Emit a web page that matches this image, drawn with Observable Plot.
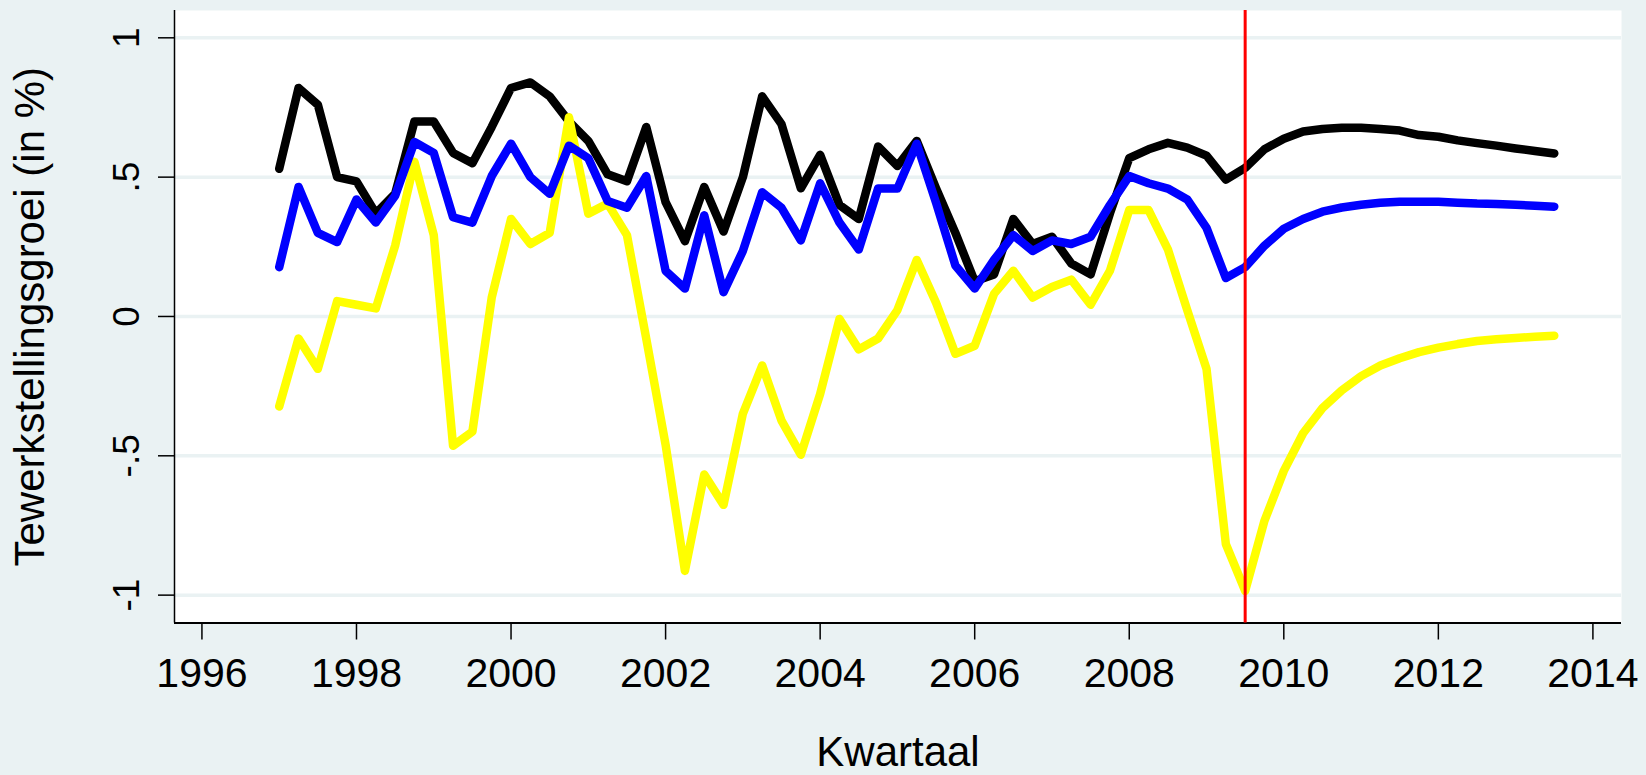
<!DOCTYPE html>
<html>
<head>
<meta charset="utf-8">
<script src="https://cdn.jsdelivr.net/npm/d3@7"></script>
<script src="https://cdn.jsdelivr.net/npm/@observablehq/plot@0.6"></script>
<style>
html, body { margin: 0; padding: 0; background: #EAF2F3; }
#chart svg { display: block; }
</style>
</head>
<body>
<div id="chart"></div>
<script>
// Quarters (decimal year), 1997q1 .. 2013q3
const kwartalen = [
  1997.00, 1997.25, 1997.50, 1997.75, 1998.00, 1998.25, 1998.50, 1998.75,
  1999.00, 1999.25, 1999.50, 1999.75, 2000.00, 2000.25, 2000.50, 2000.75,
  2001.00, 2001.25, 2001.50, 2001.75, 2002.00, 2002.25, 2002.50, 2002.75,
  2003.00, 2003.25, 2003.50, 2003.75, 2004.00, 2004.25, 2004.50, 2004.75,
  2005.00, 2005.25, 2005.50, 2005.75, 2006.00, 2006.25, 2006.50, 2006.75,
  2007.00, 2007.25, 2007.50, 2007.75, 2008.00, 2008.25, 2008.50, 2008.75,
  2009.00, 2009.25, 2009.50, 2009.75, 2010.00, 2010.25, 2010.50, 2010.75,
  2011.00, 2011.25, 2011.50, 2011.75, 2012.00, 2012.25, 2012.50, 2012.75,
  2013.00, 2013.25, 2013.50
];

// black series
const reeksZwart = [
  0.53, 0.82, 0.76, 0.50, 0.485, 0.37, 0.44, 0.70,
  0.70, 0.587, 0.55, 0.68, 0.82, 0.84, 0.79, 0.70,
  0.63, 0.51, 0.485, 0.68, 0.41, 0.27, 0.465, 0.305,
  0.50, 0.79, 0.69, 0.46, 0.58, 0.40, 0.35, 0.61,
  0.54, 0.63, 0.46, 0.30, 0.126, 0.151, 0.35, 0.26,
  0.286, 0.19, 0.151, 0.37, 0.568, 0.60, 0.623, 0.606,
  0.577, 0.491, 0.533, 0.60, 0.638, 0.664, 0.673, 0.677,
  0.677, 0.673, 0.667, 0.651, 0.645, 0.632, 0.622, 0.613,
  0.603, 0.594, 0.585
];

// blue series
const reeksBlauw = [
  0.177, 0.465, 0.30, 0.267, 0.42, 0.337, 0.433, 0.626,
  0.587, 0.356, 0.337, 0.504, 0.62, 0.50, 0.44, 0.613,
  0.568, 0.414, 0.39, 0.504, 0.164, 0.10, 0.363, 0.087,
  0.235, 0.446, 0.39, 0.273, 0.478, 0.337, 0.24, 0.459,
  0.459, 0.62, 0.408, 0.183, 0.10, 0.203, 0.292, 0.235,
  0.273, 0.26, 0.286, 0.40, 0.504, 0.478, 0.459, 0.42,
  0.318, 0.138, 0.177, 0.254, 0.315, 0.35, 0.376, 0.391,
  0.401, 0.408, 0.412, 0.412, 0.412, 0.408, 0.405, 0.404,
  0.401, 0.397, 0.394
];

// yellow series
const reeksGeel = [
  -0.323, -0.079, -0.188, 0.055, 0.042, 0.029, 0.254, 0.555,
  0.292, -0.464, -0.413, 0.068, 0.35, 0.26, 0.30, 0.715,
  0.369, 0.405, 0.292, -0.08, -0.46, -0.913, -0.567, -0.676,
  -0.349, -0.176, -0.374, -0.496, -0.278, -0.009, -0.118, -0.079,
  0.023, 0.203, 0.049, -0.134, -0.105, 0.081, 0.164, 0.068,
  0.106, 0.132, 0.042, 0.164, 0.382, 0.382, 0.241, 0.023,
  -0.188, -0.817, -0.985, -0.733, -0.554, -0.419, -0.329, -0.265,
  -0.214, -0.176, -0.15, -0.128, -0.112, -0.099, -0.088, -0.082,
  -0.077, -0.073, -0.069
];

const reeksNamen = ["zwart", "geel", "blauw"];
const reeksKleuren = ["#000000", "#FFFF00", "#0000FF"];

const xTicks = [1996, 1998, 2000, 2002, 2004, 2006, 2008, 2010, 2012, 2014];
const yTicks = [1, 0.5, 0, -0.5, -1];
const yTickLabels = ["1", ".5", "0", "-.5", "-1"];
const breukKwartaal = [2009.5];

const yTitel = "Tewerkstellingsgroei (in %)";
const xTitel = "Kwartaal";

const xDomain = [1995.645, 2014.37];
const yDomain = [-1.10, 1.098];

const reeksWaarden = { zwart: reeksZwart, geel: reeksGeel, blauw: reeksBlauw };
const rows = [];
for (const naam of reeksNamen) {
  reeksWaarden[naam].forEach((v, i) => rows.push({ kwartaal: kwartalen[i], waarde: v, reeks: naam }));
}

const font = "'Liberation Sans', Arial, Helvetica, sans-serif";

const chart = Plot.plot({
  width: 1646,
  height: 775,
  marginLeft: 174,
  marginRight: 25,
  marginTop: 10,
  marginBottom: 152.5,
  style: { background: "#EAF2F3", fontFamily: font, color: "black", overflow: "visible" },
  x: { domain: xDomain },
  y: { domain: yDomain },
  color: { domain: reeksNamen, range: reeksKleuren },
  marks: [
    Plot.frame({ fill: "white", stroke: "none" }),
    Plot.gridY(yTicks, { stroke: "#EAF2F3", strokeOpacity: 1, strokeWidth: 3.5 }),
    Plot.ruleX([xDomain[0]], { stroke: "black", strokeWidth: 1.5 }),
    Plot.ruleY([yDomain[0]], { stroke: "black", strokeWidth: 2.2 }),
    Plot.line(rows, {
      x: "kwartaal", y: "waarde", z: "reeks", stroke: "reeks",
      strokeWidth: 8.5, strokeLinejoin: "round", strokeLinecap: "round"
    }),
    Plot.ruleX(breukKwartaal, { stroke: "#FF0000", strokeWidth: 3 }),
    Plot.axisX(xTicks, {
      tickSize: 17, tickPadding: 18, fontSize: 41, strokeWidth: 1.5,
      tickFormat: d => String(d), label: null
    }),
    Plot.axisY(yTicks, {
      tickSize: 16, tickPadding: 20, tickRotate: -90, fontSize: 37, strokeWidth: 1.5,
      tickFormat: d => yTickLabels[yTicks.indexOf(d)], label: null
    }),
    Plot.text([yTitel], {
      frameAnchor: "left", dx: -131, rotate: -90, lineAnchor: "bottom",
      textAnchor: "middle", fontSize: 42, text: d => d
    }),
    Plot.text([xTitel], {
      frameAnchor: "bottom", dy: 143, lineAnchor: "bottom",
      textAnchor: "middle", fontSize: 42, text: d => d
    })
  ]
});

document.getElementById("chart").appendChild(chart);
</script>
</body>
</html>
